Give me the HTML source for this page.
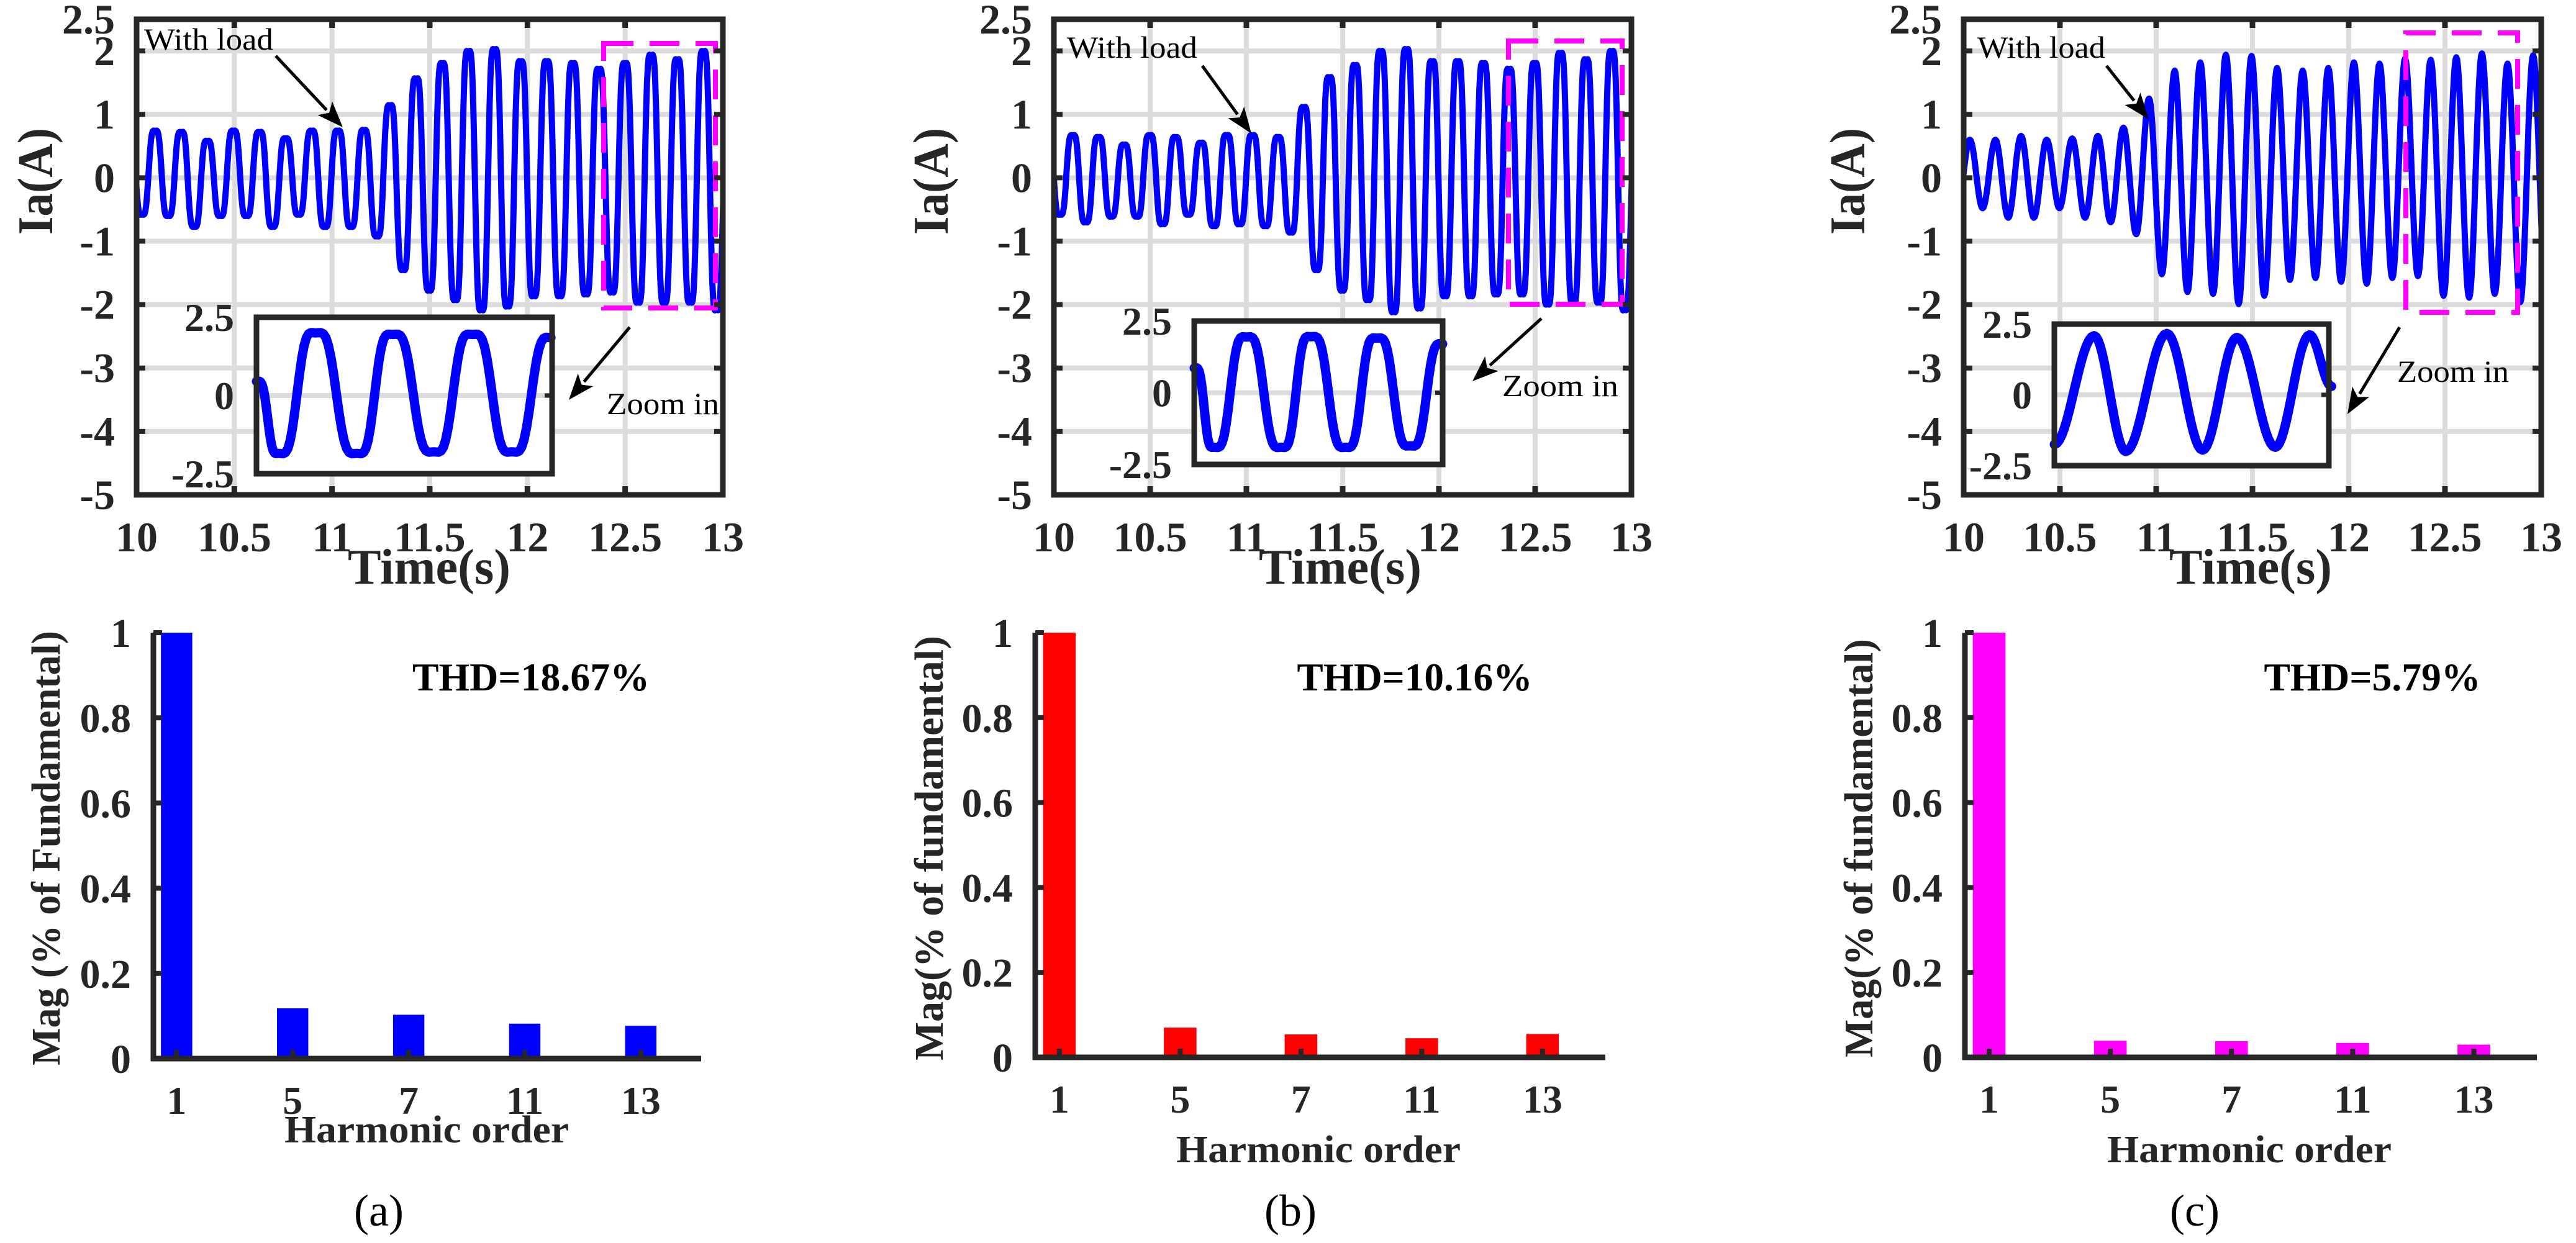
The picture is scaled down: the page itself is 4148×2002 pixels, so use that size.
<!DOCTYPE html>
<html><head><meta charset="utf-8">
<style>
html,body{margin:0;padding:0;background:#fff;}
svg{display:block;}
text{font-family:"Liberation Serif","DejaVu Serif",serif;}
</style></head>
<body>
<svg id="fig" xmlns="http://www.w3.org/2000/svg" width="4148" height="2002" viewBox="0 0 4148 2002" font-family="Liberation Serif, serif">
<rect x="0" y="0" width="4148" height="2002" fill="#fff"/>
<defs>
<clipPath id="clipA"><rect x="220" y="31" width="944" height="767"/></clipPath>
<clipPath id="clipB"><rect x="1697" y="31" width="930" height="767"/></clipPath>
<clipPath id="clipC"><rect x="3162" y="31" width="930" height="767"/></clipPath>
</defs>
</svg>
<script>
// ---------- DATA ----------
const aPeaks   = [0.7,0.74,0.72,0.58,0.74,0.72,0.62,0.74,0.74,0.75,1.14,1.56,1.80,1.99,2.02,1.83,1.83,1.80,1.71,1.80,1.93,1.86,1.99,1.0];
const aTroughs = [-0.58,-0.6,-0.77,-0.6,-0.6,-0.77,-0.58,-0.77,-0.77,-0.92,-1.45,-1.77,-1.92,-2.08,-2.02,-1.86,-1.86,-1.83,-1.80,-1.96,-1.96,-1.96,-2.08];
const bPeaks   = [0.7,0.67,0.64,0.52,0.67,0.64,0.55,0.67,0.67,0.64,1.11,1.58,1.77,1.99,2.02,1.83,1.83,1.80,1.71,1.80,1.96,1.86,1.99,1.0];
const bTroughs = [-0.58,-0.70,-0.61,-0.61,-0.73,-0.58,-0.76,-0.73,-0.76,-0.86,-1.45,-1.77,-1.92,-2.11,-2.05,-1.86,-1.86,-1.83,-1.83,-1.99,-1.96,-1.96,-2.08];
const cPeaks   = [0.60,0.60,0.66,0.60,0.62,0.66,0.79,1.25,1.69,1.82,1.94,1.92,1.73,1.69,1.73,1.82,1.80,1.88,1.86,1.90,1.96,1.80,1.93];
const cTroughs = [-0.5,-0.48,-0.63,-0.63,-0.48,-0.63,-0.70,-0.89,-1.52,-1.80,-1.83,-1.99,-1.86,-1.61,-1.58,-1.64,-1.67,-1.58,-1.55,-1.86,-1.89,-1.83,-1.96,-1.8];
const aFirstT = 9.961, bFirstT = 9.965, cFirstT = 9.9655;
const aPeriod = 0.1336, bPeriod = 0.1333, cPeriod = 0.133;
const aInsetT = [0,0.075,0.20,0.34,0.46,0.60,0.73,0.864,0.996];
const aInsetV = [0.45,-1.85,2.0,-1.85,1.95,-1.8,1.95,-1.8,1.85];
const bInsetT = [0,0.08,0.21,0.35,0.47,0.61,0.735,0.87,1.0];
const bInsetV = [0.86,-1.9,1.94,-1.9,1.95,-1.9,1.9,-1.85,1.7];
const cInsetT = [0,0.145,0.26,0.41,0.54,0.665,0.805,0.93,1.01];
const cInsetV = [-1.75,2.09,-2.0,2.17,-1.95,2.03,-1.85,2.12,0.3];
const harmOrders = ["1","5","7","11","13"];
const aMag = [1,0.118,0.103,0.082,0.077];
const bMag = [1,0.070,0.054,0.045,0.055];
const cMag = [1,0.039,0.038,0.034,0.030];
const thdLabels = ["THD=18.67%","THD=10.16%","THD=5.79%"];
const timeTicks = [10,10.5,11,11.5,12,12.5,13];
const timeTickLabels = ["10","10.5","11","11.5","12","12.5","13"];
const iaTicks = [2.5,2,1,0,-1,-2,-3,-4,-5];
const iaTickLabels = ["2.5","2","1","0","-1","-2","-3","-4","-5"];
const iaGrid = [2,1,0,-1,-2,-3,-4];
const magTicks = [0,0.2,0.4,0.6,0.8,1];
const magTickLabels = ["0","0.2","0.4","0.6","0.8","1"];
const insetTickLabels = ["2.5","0","-2.5"];
const insetTicks = [2.5,0,-2.5];

// ---------- DRAWING ----------
const NS = "http://www.w3.org/2000/svg";
const svg = document.getElementById('fig');
const INK = "#262626", GRID = "#dcdcdc", FF = "Liberation Serif, serif";
function el(tag, attrs, parent){
  const e = document.createElementNS(NS, tag);
  for (const k in attrs) e.setAttribute(k, attrs[k]);
  (parent||svg).appendChild(e);
  return e;
}
function txt(str, attrs, parent){
  attrs["font-family"] = FF;
  const t = el('text', attrs, parent);
  t.textContent = str;
  return t;
}
function arrow(x1,y1,x2,y2,parent,name){
  const g = el('g',{},parent);
  
  
  const dx=x2-x1, dy=y2-y1, L=Math.hypot(dx,dy), ux=dx/L, uy=dy/L;
  const hl=42, hw=16;
  const bx=x2-ux*hl, by=y2-uy*hl;
  el('line',{x1:x1,y1:y1,x2:bx+ux*4,y2:by+uy*4,stroke:"#000","stroke-width":5},g);
  el('polygon',{points:`${x2},${y2} ${bx-uy*hw},${by+ux*hw} ${bx+ux*10},${by+uy*10} ${bx+uy*hw},${by-ux*hw}`,fill:"#000"},g);
}
function buildExtremes(peaks, troughs, startsWithPeak){
  const seq=[];
  const n = peaks.length + troughs.length;
  let pi=0, ti=0, isPeak=startsWithPeak;
  for(let i=0;i<n;i++){
    if(isPeak){ if(pi<peaks.length) seq.push(peaks[pi++]); }
    else { if(ti<troughs.length) seq.push(troughs[ti++]); }
    isPeak=!isPeak;
  }
  return seq;
}
function wavePath(times, vals, sx, sy, ripple){
  let d="";
  for(let i=0;i<vals.length-1;i++){
    const t0=times[i], t1=times[i+1], v0=vals[i], v1=vals[i+1];
    const N=16;
    for(let k=(i===0?0:1);k<=N;k++){
      const s=k/N;
      const base = v0 + (v1-v0)*(1-Math.cos(Math.PI*s))/2;
      const r = ripple*(v1-v0)*Math.sin(2*Math.PI*s)*Math.sin(Math.PI*s)*0.6;
      const v = base - r;
      const t = t0+(t1-t0)*s;
      d += (d?"L":"M")+sx(t).toFixed(1)+","+sy(v).toFixed(1);
    }
  }
  return d;
}

const panels = [
 {id:"a", x0:220,x1:1164, clip:"clipA", peaks:aPeaks, troughs:aTroughs, firstT:aFirstT, period:aPeriod, startPeak:true, ripple:0.25,
  inset:{x:413,y:511,w:476,h:252}, insT:aInsetT, insV:aInsetV, insRipple:0.25,
  mag:{x:972,y:70,w:180,h:426},
  wl:{x:232,y:80,len:208,ax1:444,ay1:90,ax2:552,ay2:205},
  zi:{x:977,y:667,len:181,ax1:1014,ay1:527,ax2:916,ay2:644},
  ylab:{x:58}, timeX:691,
  bar:{x0:247,x1:1129,yb:1705,color:"#0000ff",vals:aMag, yl:{x:72,len:700,text:"Mag (% of Fundamental)"}, thdX:855, thdLen:382, hoX:687, hoY:1840, tickY:1794, cap:"(a)", capX:610}
 },
 {id:"b", x0:1697,x1:2627, clip:"clipB", peaks:bPeaks, troughs:bTroughs, firstT:bFirstT, period:bPeriod, startPeak:true, ripple:0.25,
  inset:{x:1923,y:517,w:400,h:231}, insT:bInsetT, insV:bInsetV, insRipple:0.25,
  mag:{x:2429,y:66,w:183,h:424},
  wl:{x:1718,y:93,len:210,ax1:1936,ay1:106,ax2:2015,ay2:215},
  zi:{x:2419,y:638,len:187,ax1:2482,ay1:513,ax2:2371,ay2:614},
  ylab:{x:1500}, timeX:2158,
  bar:{x0:1667,x1:2585,yb:1703,color:"#ff0000",vals:bMag, yl:{x:1494,len:684,text:"Mag(% of fundamental)"}, thdX:2278, thdLen:379, hoX:2123, hoY:1872, tickY:1792, cap:"(b)", capX:2078}
 },
 {id:"c", x0:3162,x1:4092, clip:"clipC", peaks:cPeaks, troughs:cTroughs, firstT:cFirstT, period:cPeriod, startPeak:false, ripple:0,
  inset:{x:3308,y:522,w:442,h:228}, insT:cInsetT, insV:cInsetV, insRipple:0,
  mag:{x:3874,y:53,w:180,h:450},
  wl:{x:3184,y:93,len:206,ax1:3392,ay1:106,ax2:3460,ay2:192},
  zi:{x:3860,y:615,len:180,ax1:3864,ay1:527,ax2:3780,ay2:667},
  ylab:{x:2976}, timeX:3624,
  bar:{x0:3164,x1:4085,yb:1703,color:"#ff00ff",vals:cMag, yl:{x:2991,len:674,text:"Mag(% of fundamental)"}, thdX:3820, thdLen:349, hoX:3622, hoY:1872, tickY:1792, cap:"(c)", capX:3534}
 }
];

const Y0=31, Y1=797;
panels.forEach((P, pidx)=>{
  const g = el('g',{});
  
  
  const sx = t => P.x0 + (t-10)/3*(P.x1-P.x0);
  const sy = v => Y0 + (2.5-v)/7.5*(Y1-Y0);
  const grid = el('g',{stroke:GRID,"stroke-width":8},g);
  
  
  timeTicks.forEach(t=>{ if(t>10&&t<13) el('line',{x1:sx(t),y1:Y0,x2:sx(t),y2:Y1},grid); });
  iaGrid.forEach(v=>{ el('line',{x1:P.x0,y1:sy(v),x2:P.x1,y2:sy(v)},grid); });
  const seq = buildExtremes(P.peaks, P.troughs, P.startPeak);
  const times = seq.map((v,i)=>P.firstT + i*P.period/2);
  const wave = el('path',{d:wavePath(times, seq, sx, sy, P.ripple), fill:"none", stroke:"#0000ff","stroke-width":10,"stroke-linejoin":"round","clip-path":`url(#${P.clip})`},g);
  
  
  const mb = el('rect',{x:P.mag.x,y:P.mag.y,width:P.mag.w,height:P.mag.h,fill:"none",stroke:"#ff00ff","stroke-width":8,"stroke-dasharray":"48,26"},g);
  
  
  const fr = el('rect',{x:P.x0,y:Y0,width:P.x1-P.x0,height:Y1-Y0,fill:"none",stroke:INK,"stroke-width":9},g);
  
  
  timeTicks.forEach(t=>{
    el('line',{x1:sx(t),y1:Y1,x2:sx(t),y2:Y1-14,stroke:INK,"stroke-width":9},g);
    el('line',{x1:sx(t),y1:Y0,x2:sx(t),y2:Y0+14,stroke:INK,"stroke-width":9},g);
  });
  iaGrid.forEach(v=>{
    el('line',{x1:P.x0,y1:sy(v),x2:P.x0+14,y2:sy(v),stroke:INK,"stroke-width":8},g);
    el('line',{x1:P.x1,y1:sy(v),x2:P.x1-14,y2:sy(v),stroke:INK,"stroke-width":8},g);
  });
  const I = P.inset;
  const ig = el('g',{},g);
  
  
  el('rect',{x:I.x,y:I.y,width:I.w,height:I.h,fill:"#fff"},ig);
  const iy = v => I.y + (2.5-v)/5*I.h;
  const ix = f => I.x + f*I.w;
  el('line',{x1:I.x,y1:iy(0),x2:I.x+I.w,y2:iy(0),stroke:GRID,"stroke-width":8},ig);
  el('line',{x1:I.x+I.w,y1:iy(0),x2:I.x+I.w-12,y2:iy(0),stroke:INK,"stroke-width":7},ig);
  const iw = el('path',{d:wavePath(P.insT,P.insV,ix,iy,P.insRipple),fill:"none",stroke:"#0000ff","stroke-width":15,"stroke-linejoin":"round","stroke-linecap":"round"},ig);
  
  
  el('rect',{x:I.x,y:I.y,width:I.w,height:I.h,fill:"none",stroke:INK,"stroke-width":9},ig);
  insetTicks.forEach((v,i)=>{
    const t = txt(insetTickLabels[i],{x:I.x-36,y:iy(v)+22,"text-anchor":"end","font-size":64,"font-weight":"bold",fill:INK},ig);
    
    
  });
  timeTicks.forEach((t,i)=>{
    const e = txt(timeTickLabels[i],{x:sx(t),y:888,"text-anchor":"middle","font-size":68,"font-weight":"bold",fill:INK},g);
    
    
  });
  iaTicks.forEach((v,i)=>{
    const e = txt(iaTickLabels[i],{x:P.x0-35,y:sy(v)+23,"text-anchor":"end","font-size":68,"font-weight":"bold",fill:INK},g);
    
    
  });
  const xt = txt("Time(s)",{x:P.timeX,y:940,"text-anchor":"middle","font-size":80,"font-weight":"bold",fill:INK,textLength:262,lengthAdjust:"spacingAndGlyphs"},g);
  
  
  const yg = el('g',{transform:`translate(${P.ylab.x},292) rotate(-90)`},g);
  const yt = txt("Ia(A)",{x:0,y:26,"text-anchor":"middle","font-size":80,"font-weight":"bold",fill:INK,textLength:172,lengthAdjust:"spacingAndGlyphs"},yg);
  
  
  const w = txt("With load",{x:P.wl.x,y:P.wl.y,"font-size":50,fill:"#000",textLength:P.wl.len,lengthAdjust:"spacingAndGlyphs"},g);
  
  
  arrow(P.wl.ax1,P.wl.ay1,P.wl.ax2,P.wl.ay2,g,'with-load-arrow');
  const z = txt("Zoom in",{x:P.zi.x,y:P.zi.y,"font-size":50,fill:"#000",textLength:P.zi.len,lengthAdjust:"spacingAndGlyphs"},g);
  
  
  arrow(P.zi.ax1,P.zi.ay1,P.zi.ax2,P.zi.ay2,g,'zoom-in-arrow');

  const B = P.bar;
  const bg = el('g',{});
  
  
  const YT=1019;
  const bx = i => B.x0 + (i+0.2)/4.72*(B.x1-B.x0);
  const by = v => B.yb - v*(B.yb-YT);
  const bw = 0.27*(B.x1-B.x0)/4.72;
  B.vals.forEach((v,i)=>{
    const r = el('rect',{x:bx(i)-bw/2,y:by(v),width:bw,height:B.yb-by(v),fill:B.color},bg);
    
    
  });
  el('line',{x1:B.x0,y1:YT,x2:B.x0,y2:B.yb+4,stroke:INK,"stroke-width":9},bg);
  el('line',{x1:B.x0-4,y1:B.yb,x2:B.x1,y2:B.yb,stroke:INK,"stroke-width":9},bg);
  magTicks.forEach((v,i)=>{
    el('line',{x1:B.x0,y1:by(v),x2:B.x0+14,y2:by(v),stroke:INK,"stroke-width":8},bg);
    const e = txt(magTickLabels[i],{x:B.x0-36,y:by(v)+23,"text-anchor":"end","font-size":66,"font-weight":"bold",fill:INK},bg);
    
    
  });
  harmOrders.forEach((h,i)=>{
    el('line',{x1:bx(i),y1:B.yb,x2:bx(i),y2:B.yb-14,stroke:INK,"stroke-width":8},bg);
    const e = txt(h,{x:bx(i),y:B.tickY,"text-anchor":"middle","font-size":64,"font-weight":"bold",fill:INK},bg);
    
    
  });
  const th = txt(thdLabels[pidx],{x:B.thdX,y:1112,"text-anchor":"middle","font-size":64,"font-weight":"bold",fill:"#000",textLength:B.thdLen,lengthAdjust:"spacingAndGlyphs"},bg);
  
  
  const ho = txt("Harmonic order",{x:B.hoX,y:B.hoY,"text-anchor":"middle","font-size":62,"font-weight":"bold",fill:INK,textLength:458,lengthAdjust:"spacingAndGlyphs"},bg);
  
  
  const mg = el('g',{transform:`translate(${B.yl.x},1366) rotate(-90)`},bg);
  const mt = txt(B.yl.text,{x:0,y:24,"text-anchor":"middle","font-size":66,"font-weight":"bold",fill:INK,textLength:B.yl.len,lengthAdjust:"spacingAndGlyphs"},mg);
  
  
  const cp = txt(B.cap,{x:B.capX,y:1974,"text-anchor":"middle","font-size":72,fill:"#000"},bg);
  
  
});
</script>
</body></html>
